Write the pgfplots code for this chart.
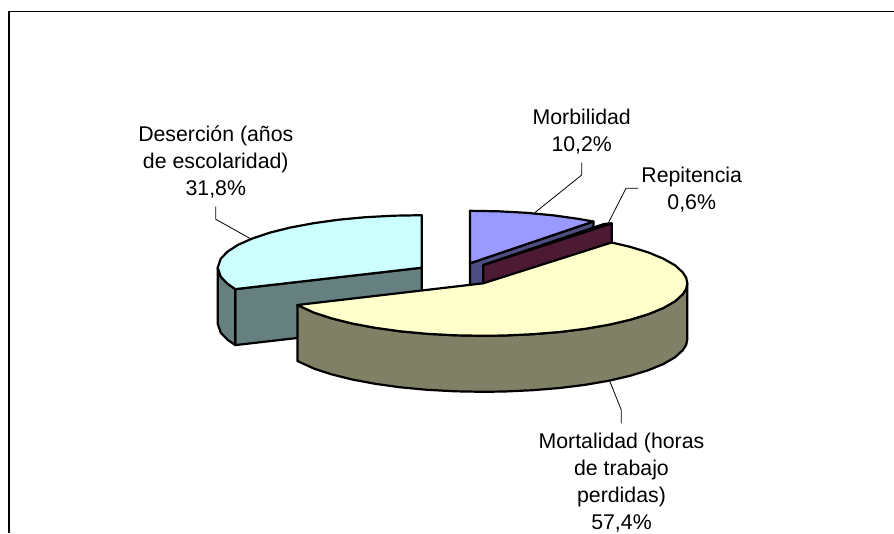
\documentclass[border=0pt]{standalone}
\usepackage{pgfplots}
\pgfplotsset{compat=1.18}
\usepackage{fontspec}
\setmainfont{Liberation Sans}
\definecolor{cyantop}{HTML}{CCFFFF}
\definecolor{cyanside}{HTML}{668080}
\definecolor{bluetop}{HTML}{9999FF}
\definecolor{blueside}{HTML}{4D4D80}
\definecolor{maroontop}{HTML}{993366}
\definecolor{maroonside}{HTML}{4D1A33}
\definecolor{yellowtop}{HTML}{FFFFCC}
\definecolor{yellowside}{HTML}{808066}
\tikzset{
  lead/.style={draw=black, line width=0.8pt, fill=none},
  lbl/.style={anchor=north, inner sep=0pt, align=center,
    font=\fontsize{21.3}{27.2}\selectfont},
}
\begin{document}
\begin{tikzpicture}
\useasboundingbox (0,0) rectangle (894pt,533pt);
\begin{axis}[
  scale only axis,
  width=894pt, height=533pt,
  xmin=0, xmax=894, ymin=0, ymax=533,
  y dir=reverse,
  hide axis,
  no marks,
  every axis plot/.append style={draw=black, line width=2.2pt, line join=round},
]
% frame, only left and top are in the picture
\addplot[line width=1.4pt] coordinates {(9,533) (9,11.7) (894,11.7)};

% Desercion 31.8
\addplot[fill=cyanside] coordinates {
  (235.3,289.1) (421.7,267.7) (421.7,323.7) (235.3,345.1)} -- cycle;
\addplot[fill=cyanside] coordinates {
  (217.7,267.7) (220.8,276.8) (227.7,283.9) (235.3,289.1)
  (235.3,345.1) (227.7,339.9) (220.8,332.8) (217.7,323.7)} -- cycle;
\addplot[fill=cyantop] coordinates {
  (421.7,267.7) (421.7,215.2) (393.3,215.7) (365.4,217.2) (338.7,219.7)
  (313.6,223.2) (290.5,227.5) (270.1,232.6) (252.6,238.4) (238.3,244.7)
  (227.7,251.5) (220.8,258.6) (217.7,267.7) (220.8,276.8) (227.7,283.9)
  (235.3,289.1)} -- cycle;

% Morbilidad 10.2
\addplot[fill=blueside] coordinates {
  (470,263.3) (593.4,221.5) (593.4,277.5) (470,319.3)} -- cycle;
\addplot[fill=bluetop] coordinates {
  (470,263.3) (470,210.8) (498.4,211.3) (526.3,212.8) (553.0,215.3)
  (578.1,218.8) (593.4,221.5)} -- cycle;

% Repitencia 0.6
\addplot[fill=maroonside] coordinates {
  (483.3,265) (611.7,223.3) (611.7,280) (483.3,320)} -- cycle;
\addplot[fill=maroontop] coordinates {
  (483.3,265) (604,224) (611.7,223.3)} -- cycle;

% Mortalidad 57.4
\addplot[fill=yellowside] coordinates {
  (687.3,283.3) (686.2,288.8) (682.8,294.2) (675.0,301.3) (663.4,308.0)
  (648.3,314.2) (630.0,319.8) (609.0,324.7) (585.3,328.8) (559.8,332.0)
  (532.7,334.2) (504.7,335.5) (483.3,335.8) (454.9,335.3) (427.0,333.8)
  (400.3,331.3) (375.2,327.8) (352.1,323.5) (331.7,318.4) (314.2,312.7)
  (297.4,305.0)
  (297.4,361.0) (314.2,368.7) (331.7,374.4) (352.1,379.5) (375.2,383.8)
  (400.3,387.3) (427.0,389.8) (454.9,391.3) (483.3,391.8) (504.7,391.5)
  (532.7,390.2) (559.8,388.0) (585.3,384.8) (609.0,380.7) (630.0,375.8)
  (648.3,370.2) (663.4,364.0) (675.0,357.3) (682.8,350.2) (686.2,344.8)
  (687.3,339.3)} -- cycle;
\addplot[fill=yellowtop] coordinates {
  (483.3,283.3) (611.6,242.5) (630.0,246.8) (648.3,252.4) (663.4,258.7)
  (675.0,265.3) (682.8,272.4) (686.2,277.8) (687.3,283.3) (686.2,288.8)
  (682.8,294.2) (675.0,301.3) (663.4,308.0) (648.3,314.2) (630.0,319.8)
  (609.0,324.7) (585.3,328.8) (559.8,332.0) (532.7,334.2) (504.7,335.5)
  (483.3,335.8) (454.9,335.3) (427.0,333.8) (400.3,331.3) (375.2,327.8)
  (352.1,323.5) (331.7,318.4) (314.2,312.7) (297.4,305.0)} -- cycle;

% leader lines
\addplot[lead] coordinates {(215.8,206.7) (215.8,219.3) (250,238.4)};
\addplot[lead] coordinates {(581.7,162.7) (581.7,175) (535,212.5)};
\addplot[lead] coordinates {(638.3,188.3) (626,188.3) (608,223.5)};
\addplot[lead] coordinates {(610,381.7) (621.3,410) (621.3,423.3)};

\node[lbl] at (axis cs:215.8,125.5) {Deserción (años\\de escolaridad)\\31,8\%};
\node[lbl] at (axis cs:581.7,109) {Morbilidad\\10,2\%};
\node[lbl] at (axis cs:691.7,167) {Repitencia\\0,6\%};
\node[lbl] at (axis cs:621.5,432.5) {Mortalidad (horas\\de trabajo\\perdidas)\\57,4\%};
\end{axis}
\end{tikzpicture}
\end{document}
